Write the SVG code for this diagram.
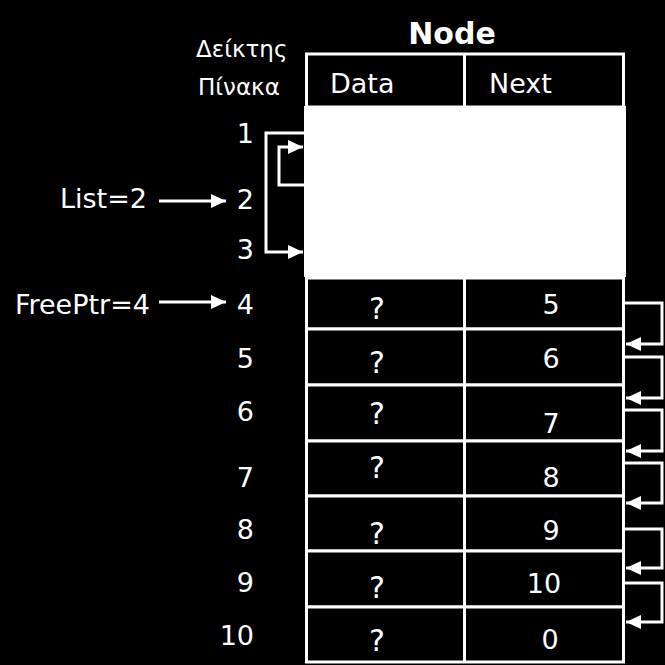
<svg xmlns="http://www.w3.org/2000/svg" width="665" height="665" viewBox="0 0 665 665">
<style>
text{font-family:"DejaVu Sans","Liberation Sans",sans-serif;fill:#fff;font-size:27px}
.t{text-anchor:middle}
.e{text-anchor:end}
.q{font-size:30px}
.g{font-size:23px}
.b{fill:#000;stroke:#fff;stroke-width:3}
.c{fill:none;stroke:#fff;stroke-width:3}
</style>
<defs>
<marker id="ah" markerUnits="userSpaceOnUse" markerWidth="15" markerHeight="14" refX="15" refY="7" orient="auto">
<path d="M0,0 L15,7 L0,14 z" fill="#fff"/>
</marker>
</defs>
<rect width="665" height="665" fill="#000"/>
<text x="452" y="44" class="t" style="font-weight:bold;font-size:30px">Node</text>
<g id="colhead">
<text x="196" y="57" class="g">Δείκτης</text>
<text x="198" y="95" class="g">Πίνακα</text>
</g>
<g id="header">
<rect class="b" x="306.5" y="54" width="317" height="53"/>
<line class="c" x1="464.5" y1="54" x2="464.5" y2="107"/>
<text x="330" y="93">Data</text>
<text x="489" y="93">Next</text>
</g>
<g id="used">
<rect x="304" y="106" width="322" height="171" fill="#fff"/>
</g>
<g id="row4"><rect class="b" x="306.5" y="278" width="317" height="51"/><line class="c" x1="464.5" y1="278" x2="464.5" y2="329"/><text x="377" y="319" class="t q">?</text><text x="551" y="314" class="t">5</text></g>
<g id="row5"><rect class="b" x="306.5" y="329" width="317" height="56"/><line class="c" x1="464.5" y1="329" x2="464.5" y2="385"/><text x="377" y="373" class="t q">?</text><text x="551" y="368" class="t">6</text></g>
<g id="row6"><rect class="b" x="306.5" y="385" width="317" height="56"/><line class="c" x1="464.5" y1="385" x2="464.5" y2="441"/><text x="377" y="424" class="t q">?</text><text x="551" y="433" class="t">7</text></g>
<g id="row7"><rect class="b" x="306.5" y="441" width="317" height="55"/><line class="c" x1="464.5" y1="441" x2="464.5" y2="496"/><text x="377" y="478" class="t q">?</text><text x="551" y="487" class="t">8</text></g>
<g id="row8"><rect class="b" x="306.5" y="496" width="317" height="55"/><line class="c" x1="464.5" y1="496" x2="464.5" y2="551"/><text x="377" y="544" class="t q">?</text><text x="551" y="540" class="t">9</text></g>
<g id="row9"><rect class="b" x="306.5" y="551" width="317" height="56"/><line class="c" x1="464.5" y1="551" x2="464.5" y2="607"/><text x="377" y="598" class="t q">?</text><text x="544" y="593" class="t">10</text></g>
<g id="row10"><rect class="b" x="306.5" y="607" width="317" height="55"/><line class="c" x1="464.5" y1="607" x2="464.5" y2="662"/><text x="377" y="651" class="t q">?</text><text x="550" y="649" class="t">0</text></g>
<g id="indices">
<text x="254" y="143" class="e">1</text>
<text x="254" y="209" class="e">2</text>
<text x="254" y="259" class="e">3</text>
<text x="254" y="314" class="e">4</text>
<text x="254" y="368" class="e">5</text>
<text x="254" y="421" class="e">6</text>
<text x="254" y="487" class="e">7</text>
<text x="254" y="539" class="e">8</text>
<text x="254" y="592" class="e">9</text>
<text x="254" y="645" class="e">10</text>
</g>
<g id="list"><text x="147" y="208" class="e">List=2</text></g>
<g id="freeptr"><text x="150" y="314" class="e">FreePtr=4</text></g>
<g id="connectors">
<line class="c" x1="159" y1="201" x2="226" y2="201" marker-end="url(#ah)"/>
<line class="c" x1="159" y1="302" x2="226" y2="302" marker-end="url(#ah)"/>
<path class="c" d="M305,133 H266 V252 H303" marker-end="url(#ah)"/>
<path class="c" d="M305,185 H279 V147 H303" marker-end="url(#ah)"/>
<path class="c" d="M625,303 H662 V344 H626" marker-end="url(#ah)"/>
<path class="c" d="M625,357 H662 V398 H626" marker-end="url(#ah)"/>
<path class="c" d="M625,410 H662 V451 H626" marker-end="url(#ah)"/>
<path class="c" d="M625,463 H662 V503 H626" marker-end="url(#ah)"/>
<path class="c" d="M625,529 H662 V568 H626" marker-end="url(#ah)"/>
<path class="c" d="M625,583 H662 V622 H626" marker-end="url(#ah)"/>
</g>
</svg>
